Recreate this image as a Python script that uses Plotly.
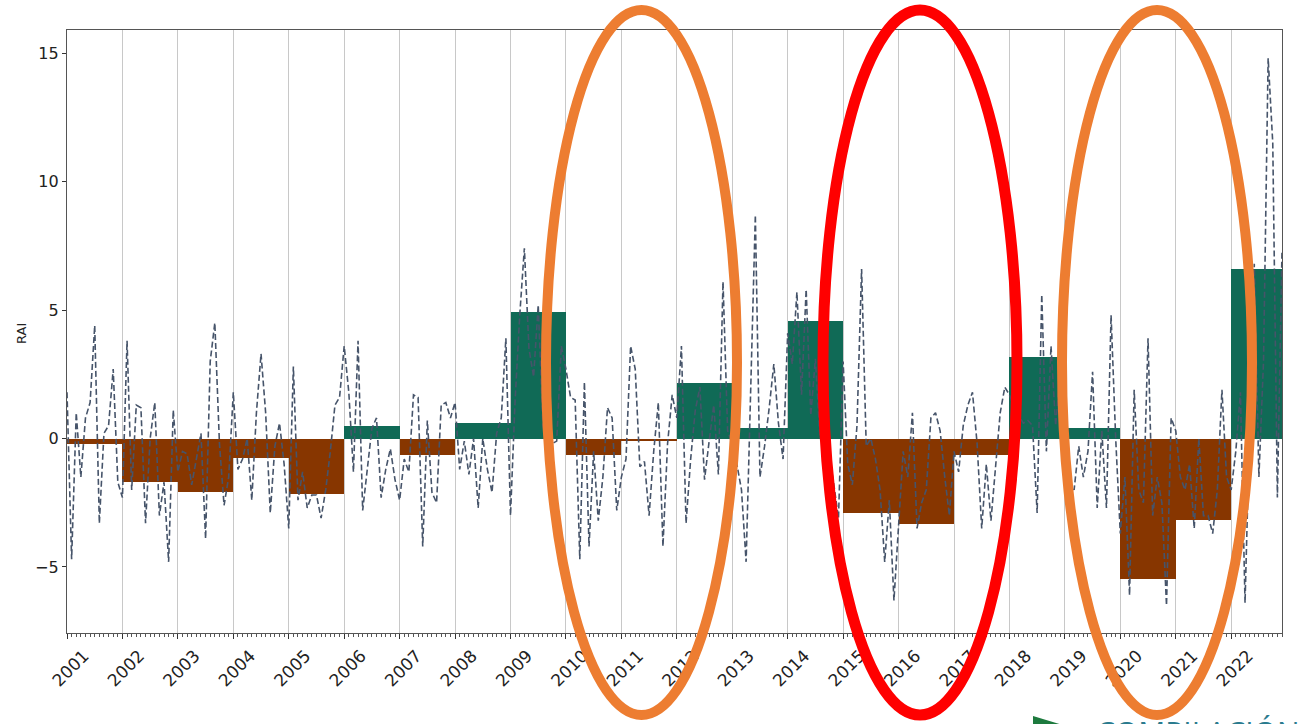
import plotly.graph_objects as go

years = list(range(2001, 2023))
year_labels = [str(y) for y in years]

annual_rai = [-0.2, -1.7, -2.1, -0.75, -2.15, 0.47, -0.66, 0.6, 4.94, -0.63, -0.08,
              2.18, 0.39, 4.59, -2.9, -3.32, -0.63, 3.19, 0.39, -5.47, -3.16, 6.59]

monthly_rai = {
    2001: [1.8, -4.7, 1.0, -1.5, 0.8, 1.4, 4.4, -3.3, 0.2, 0.5, 2.7, -1.7],
    2002: [-2.3, 3.8, -2.0, 1.3, 1.2, -3.3, 0.0, 1.4, -3.0, -1.7, -4.8, 1.1],
    2003: [-1.3, -0.5, -0.6, -1.8, -0.8, 0.2, -3.9, 3.0, 4.5, -0.2, -2.6, -1.5],
    2004: [1.8, -1.2, -0.8, 0.0, -2.4, 1.0, 3.3, 1.0, -2.9, -0.3, 0.6, -1.0],
    2005: [-3.5, 2.8, -2.4, -1.3, -2.7, -2.2, -2.2, -3.1, -2.0, -0.5, 1.3, 1.6],
    2006: [3.6, 1.8, -1.3, 3.8, -2.8, -1.2, 0.4, 0.8, -2.3, -1.2, -0.4, -1.6],
    2007: [-2.4, -0.8, -1.3, 1.7, 1.6, -4.2, 0.7, -2.1, -2.5, 1.3, 1.4, 0.8],
    2008: [1.4, -1.2, -0.1, -1.4, 0.0, -2.7, 0.0, -1.2, -2.1, 0.2, 0.8, 3.9],
    2009: [-3.0, 1.5, 4.8, 7.4, 3.5, 2.4, 5.2, 0.5, -0.2, -0.2, -0.1, 3.6],
    2010: [2.7, 1.6, 1.5, -4.7, 2.2, -4.2, -0.5, -3.2, -1.5, 1.2, 0.8, -2.8],
    2011: [-1.5, -0.8, 3.6, 2.7, -1.1, -0.9, -3.0, -0.5, 1.4, -4.2, -0.2, 1.7],
    2012: [0.8, 3.6, -3.3, -0.8, 1.1, 2.0, -1.6, -0.1, 1.3, -1.4, 6.1, 0.3],
    2013: [-0.2, -1.0, -2.0, -4.8, 1.5, 8.7, -1.5, -0.3, 1.2, 2.9, 0.6, -0.8],
    2014: [4.1, 2.9, 5.7, 1.7, 5.8, 0.9, 3.1, 0.0, 0.5, -0.6, -1.8, -3.1],
    2015: [3.0, -1.0, -1.8, 0.5, 6.6, -0.3, 0.0, -0.8, -2.0, -4.8, -2.4, -6.3],
    2016: [-3.5, -0.5, -1.5, 1.0, -3.5, -2.5, -2.0, 0.8, 1.0, 0.3, -1.5, -3.0],
    2017: [-0.5, -1.3, 0.5, 1.3, 1.8, -0.2, -3.5, -1.0, -3.2, -1.0, 1.0, 2.0],
    2018: [1.7, 1.2, 0.9, 0.6, 0.7, 0.5, -2.9, 5.6, -0.5, 3.6, 0.5, 2.6],
    2019: [0.5, -1.7, -2.0, -0.3, -1.5, -0.5, 2.6, -2.7, 0.3, -2.7, 4.8, 0.0],
    2020: [-3.7, -1.5, -6.1, 1.9, -2.0, -2.5, 3.9, -3.0, -1.5, -2.5, -6.5, 0.8],
    2021: [0.3, -1.5, -2.0, -1.0, -3.5, 0.0, -3.0, -3.0, -3.7, -2.0, 1.9, -1.5],
    2022: [-2.0, -0.5, 1.8, -6.4, 0.5, 6.8, -1.5, 3.0, 14.8, 11.5, -2.3, 7.3],
}

y_ticks = [-5, 0, 5, 10, 15]

GREEN = "#106a56"
BROWN = "#873600"
LINE = "#46546a"

# figure geometry (pixels)
W, H = 1298, 724
L, R, T, B = 67, 16, 30, 91
PW, PH = W - L - R, H - T - B


def px(x):
    return (x - L) / PW


def py(y):
    return (H - B - y) / PH


mx, my = [], []
for yr in years:
    for m, v in enumerate(monthly_rai[yr]):
        mx.append(yr + m / 12.0)
        my.append(v)

fig = go.Figure()
fig.add_trace(go.Bar(
    x=years, y=annual_rai, width=1.0, offset=0,
    marker=dict(color=[GREEN if v >= 0 else BROWN for v in annual_rai], line=dict(width=0)),
    showlegend=False, hoverinfo="skip"))
fig.add_trace(go.Scatter(
    x=mx, y=my, mode="lines",
    line=dict(color=LINE, width=1.6, dash="6px,3px"),
    showlegend=False))

shapes = []
# highlighted ellipses (pixel positions converted to paper coordinates)
for (x0, x1, col, lw) in [(546, 737, "#ED7D31", 10), (823, 1017, "#FF0000", 11), (1062, 1252, "#ED7D31", 10)]:
    shapes.append(dict(type="circle", xref="paper", yref="paper",
                       x0=px(x0), x1=px(x1), y0=py(715), y1=py(10),
                       line=dict(color=col, width=lw), layer="above"))
# logo triangle (partially cut)
shapes.append(dict(type="path", xref="paper", yref="paper",
                   path="M {} {} L {} {} L {} {} Z".format(px(1033), py(716), px(1066), py(726), px(1033), py(736)),
                   fillcolor="#1d7a3e", line=dict(width=0), layer="above"))

fig.update_layout(
    width=W, height=H,
    margin=dict(l=L, r=R, t=T, b=B, pad=0),
    plot_bgcolor="white", paper_bgcolor="white",
    font=dict(family="DejaVu Sans", size=16, color="#222222"),
    bargap=0,
    shapes=shapes,
    annotations=[
        dict(text="RAI", xref="paper", yref="paper", x=px(22), y=py(334), textangle=-90,
             showarrow=False, font=dict(size=13, color="#222222"), xanchor="center", yanchor="middle"),
        dict(text="COMPILACIÓN", xref="paper", yref="paper", x=px(1094), y=py(709),
             showarrow=False, xanchor="left", yanchor="top",
             font=dict(size=30, color="#2a7b8e", family="Open Sans")),
    ],
)

fig.update_xaxes(
    range=[2001, 2022 + 11 / 12], tickmode="array", tickvals=years, ticktext=year_labels,
    tickangle=-45, ticks="outside", ticklen=5, tickcolor="#333", ticklabelshift=17,
    tickfont=dict(size=17),
    showgrid=True, gridcolor="#c8c8c8", gridwidth=1,
    showline=True, linecolor="#555555", linewidth=1.3, mirror=True, zeroline=False,
    minor=dict(dtick=1 / 12, tick0=2001, ticks="outside", ticklen=2.5, tickcolor="#555", showgrid=False),
)
fig.update_yaxes(
    range=[-7.57, 15.9], tickmode="array", tickvals=y_ticks,
    ticks="outside", ticklen=4, tickcolor="#333",
    showgrid=False, zeroline=False,
    showline=True, linecolor="#555555", linewidth=1.3, mirror=True,
)

fig.write_html("out.html", config={"displayModeBar": False},
               post_script="document.body.style.margin='0px';document.body.style.overflow='hidden';")
